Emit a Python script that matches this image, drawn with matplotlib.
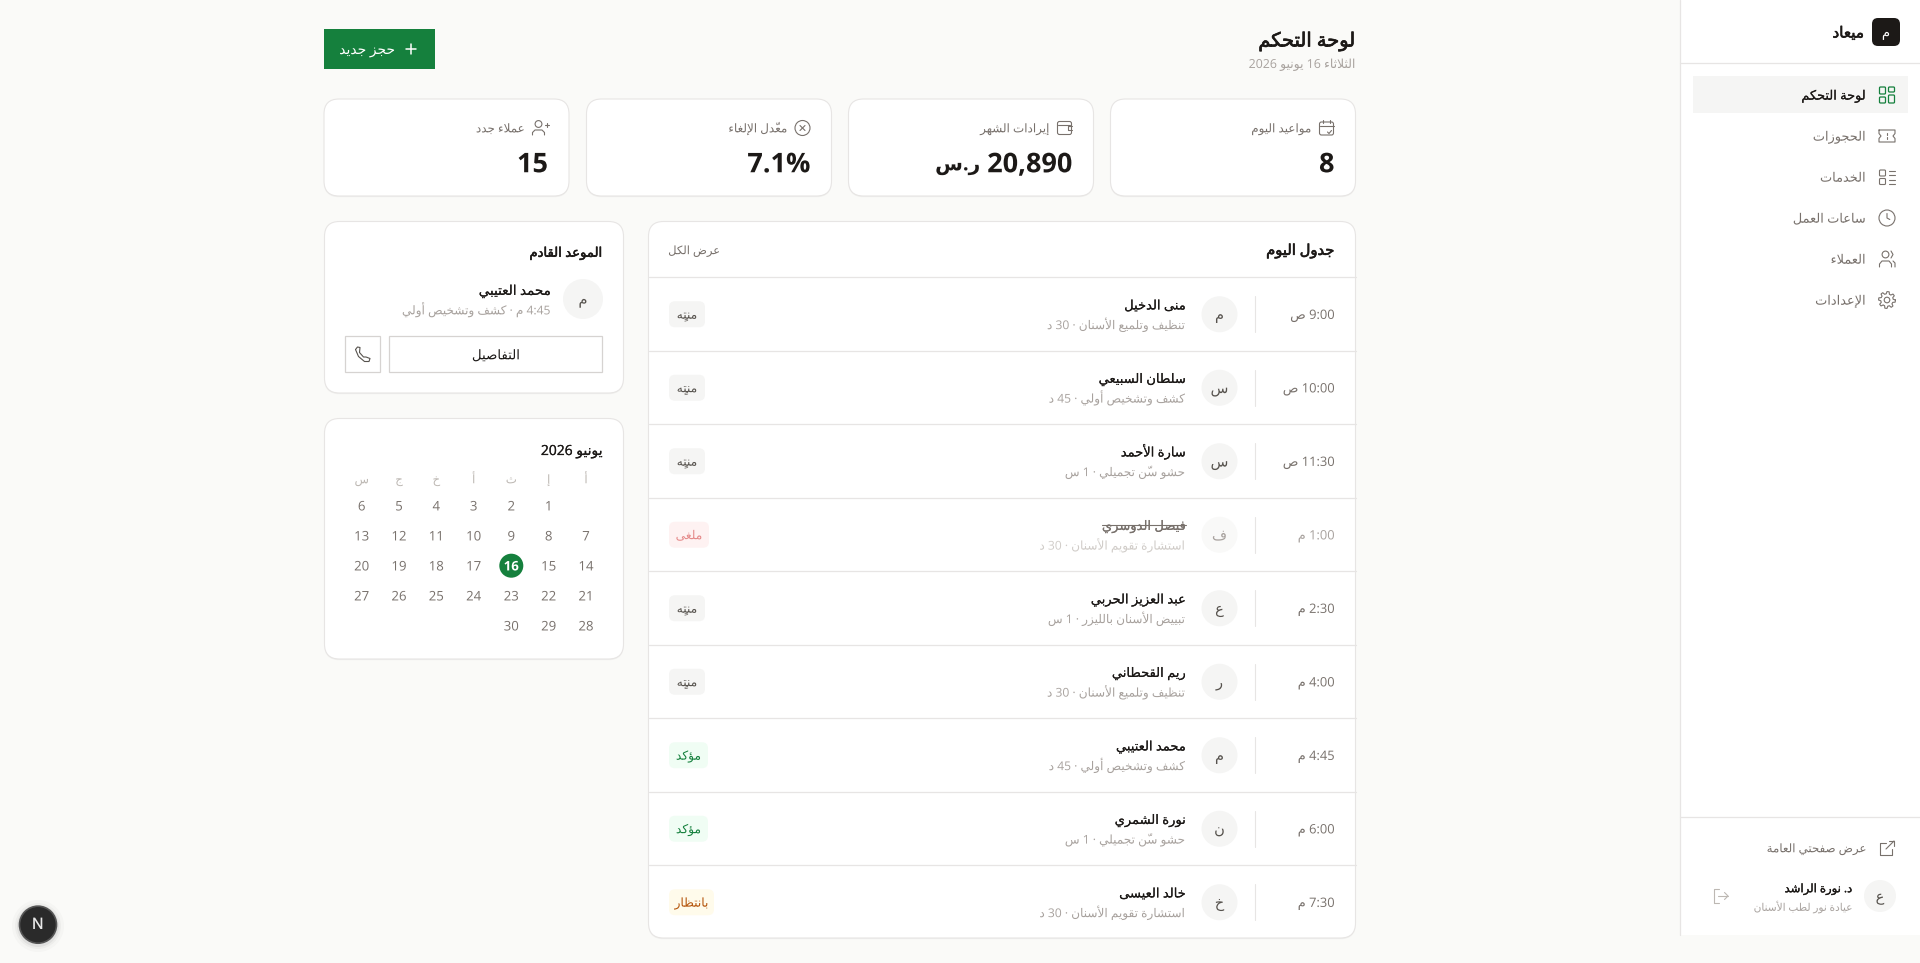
import re
import unicodedata
import numpy as np
import matplotlib
matplotlib.use("Agg")
import matplotlib.pyplot as plt
import matplotlib.patheffects as pe
from matplotlib.patches import FancyBboxPatch, Circle, Rectangle

# dashboard data
page_title = "لوحة التحكم"
page_date = "الثلاثاء 16 يونيو 2026"
new_booking = "حجز جديد"

kpi_labels = ["مواعيد اليوم", "إيرادات الشهر", "معدّل الإلغاء", "عملاء جدد"]
kpi_values = ["8", "20,890", "7.1%", "15"]
kpi_units = ["", "ر.س", "", ""]

times = ["9:00 ص", "10:00 ص", "11:30 ص", "1:00 م", "2:30 م", "4:00 م", "4:45 م", "6:00 م", "7:30 م"]
names = ["منى الدخيل", "سلطان السبيعي", "سارة الأحمد", "فيصل الدوسري", "عبد العزيز الحربي",
         "ريم القحطاني", "محمد العتيبي", "نورة الشمري", "خالد العيسى"]
services = ["تنظيف وتلميع الأسنان · 30 د", "كشف وتشخيص أولي · 45 د", "حشو سنّ تجميلي · 1 س",
            "استشارة تقويم الأسنان · 30 د", "تبييض الأسنان بالليزر · 1 س", "تنظيف وتلميع الأسنان · 30 د",
            "كشف وتشخيص أولي · 45 د", "حشو سنّ تجميلي · 1 س", "استشارة تقويم الأسنان · 30 د"]
initials = ["م", "س", "س", "ف", "ع", "ر", "م", "ن", "خ"]
statuses = ["منتهٍ", "منتهٍ", "منتهٍ", "ملغى", "منتهٍ", "منتهٍ", "مؤكد", "مؤكد", "بانتظار"]

nav_items = ["لوحة التحكم", "الحجوزات", "الخدمات", "ساعات العمل", "العملاء", "الإعدادات"]
week_days = ["أ", "إ", "ث", "أ", "خ", "ج", "س"]
cal_rows = [["", 1, 2, 3, 4, 5, 6],
            [7, 8, 9, 10, 11, 12, 13],
            [14, 15, 16, 17, 18, 19, 20],
            [21, 22, 23, 24, 25, 26, 27],
            [28, 29, 30, "", "", "", ""]]
today = 16

GREEN = "#15803D"
DARK = "#1C1917"
MID = "#57534E"
GRAY = "#78716C"
LIGHT = "#A8A29E"
LINE = "#E7E5E4"
SOFT = "#F5F5F4"

status_style = {"منتهٍ": (SOFT, MID, 36), "ملغى": ("#FEF2F2", "#E58A8A", 40),
                "مؤكد": ("#F0FDF4", GREEN, 39), "بانتظار": ("#FFFBEB", "#B45309", 45)}

plt.rcParams["text.hinting"] = "no_hinting"
FONT = ["Open Sans", "DejaVu Sans"]

# matplotlib has no arabic shaping, so build the forms table from unicode itself
FORMS = {}
LAM_ALEF = {}
for cp in range(0xFE70, 0xFEFD):
    d = unicodedata.decomposition(chr(cp)).split()
    if len(d) == 2 and d[0] in ("<isolated>", "<final>", "<initial>", "<medial>"):
        if 0x0621 <= int(d[1], 16) <= 0x064A:
            FORMS.setdefault(chr(int(d[1], 16)), {})[d[0]] = chr(cp)
    if len(d) == 3:
        LAM_ALEF.setdefault(chr(int(d[2], 16)), {})[d[0]] = chr(cp)


def is_mark(c):
    return 0x064B <= ord(c) <= 0x0652


def joins_next(c):
    return c in FORMS and "<initial>" in FORMS[c]


def shape_run(seg):
    letters = []
    for c in seg:
        if is_mark(c) and letters:
            letters[-1][1] += c
        else:
            letters.append([c, ""])
    out = []
    i = 0
    prev = None
    while i < len(letters):
        c, marks = letters[i]
        nxt = letters[i + 1][0] if i + 1 < len(letters) else None
        before = prev is not None and joins_next(prev)
        if c == "ل" and nxt in LAM_ALEF:
            out.append(LAM_ALEF[nxt]["<final>" if before else "<isolated>"] + marks)
            prev = nxt
            i += 2
            continue
        if c not in FORMS:
            out.append(c + marks)
            prev = None
            i += 1
            continue
        after = joins_next(c) and nxt in FORMS
        key = "<medial>" if before and after else "<final>" if before else "<initial>" if after else "<isolated>"
        out.append(FORMS[c].get(key, c) + marks)
        prev = c
        i += 1
    return "".join(reversed(out))


def shape(text):
    runs = re.split(r"(\d[\d:.,]*%?)", text)
    parts = [r if i % 2 else shape_run(r) for i, r in enumerate(runs)]
    return "".join(reversed(parts))


fig = plt.figure(figsize=(19.2, 9.63), dpi=100, facecolor="#FAFAF8")
ax = fig.add_axes([0, 0, 1, 1])
ax.set_xlim(0, 1920)
ax.set_ylim(963, 0)
ax.axis("off")


def txt(s, x, y, size, color=DARK, ha="right", bold=False, strong=0):
    # y is the visual middle of the line, text sits on a baseline a bit below
    t = ax.text(x, y + size * 0.5, shape(s), fontsize=size, color=color, ha=ha, va="baseline",
                family=FONT, fontweight="bold" if bold else "normal", zorder=6)
    # drawing as paths keeps baselines steady, the stroke fakes a medium weight
    if strong:
        t.set_path_effects([pe.withStroke(linewidth=strong, foreground=color)])
    else:
        t.set_path_effects([pe.Normal()])
    return t


def box(x0, y0, x1, y1, r=0, fc="white", ec="none", lw=1.0, z=1):
    if r:
        p = FancyBboxPatch((x0, y0), x1 - x0, y1 - y0, boxstyle="round,pad=0,rounding_size=%g" % r,
                           fc=fc, ec=ec, lw=lw, zorder=z)
    else:
        p = Rectangle((x0, y0), x1 - x0, y1 - y0, fc=fc, ec=ec, lw=lw, zorder=z)
    ax.add_patch(p)


def card(x0, y0, x1, y1):
    box(x0, y0 + 1.2, x1, y1 + 1.2, 15, fc="#F0F0EE")
    box(x0, y0, x1, y1, 15, fc="white", ec=LINE, lw=0.8)


def ln(xs, ys, c=GRAY, lw=0.8, z=3):
    ax.plot(xs, ys, color=c, lw=lw, solid_capstyle="round", solid_joinstyle="round", zorder=z)


def ring(x, y, r, c=GRAY, lw=0.8, fc="none", z=3):
    ax.add_patch(Circle((x, y), r, fc=fc, ec=c, lw=lw, zorder=z))


def icon_dashboard(x, y, c):
    box(x - 7.5, y - 8, x - 1.5, y - 1, 1, fc="none", ec=c, lw=0.9, z=3)
    box(x + 1.5, y - 8, x + 7.5, y - 3, 1, fc="none", ec=c, lw=0.9, z=3)
    box(x - 7.5, y + 2, x - 1.5, y + 8, 1, fc="none", ec=c, lw=0.9, z=3)
    box(x + 1.5, y, x + 7.5, y + 8, 1, fc="none", ec=c, lw=0.9, z=3)


def icon_ticket(x, y, c):
    ln([x - 8, x + 8, x + 8, x + 6, x + 8, x + 8, x - 8, x - 8, x - 6, x - 8, x - 8],
       [y - 6, y - 6, y - 2.5, y, y + 2.5, y + 6, y + 6, y + 2.5, y, y - 2.5, y - 6], c)
    ln([x, x], [y - 3, y - 1], c)
    ln([x, x], [y + 1, y + 3], c)


def icon_list(x, y, c):
    box(x - 7.5, y - 7, x - 1.5, y - 1, 1, fc="none", ec=c, lw=0.8, z=3)
    box(x - 7.5, y + 1.5, x - 1.5, y + 7.5, 1, fc="none", ec=c, lw=0.8, z=3)
    for dy in (-5.5, -1.5, 3, 7):
        ln([x + 2, x + 8], [y + dy, y + dy], c)


def icon_clock(x, y, c):
    ring(x, y, 8, c)
    ln([x, x, x + 2.8], [y - 4.5, y, y + 1.5], c)


def icon_users(x, y, c):
    ring(x - 1.5, y - 4.5, 3.4, c)
    ln([x - 7.5, x - 7.5, x - 5, x + 2, x + 4.5, x + 4.5], [y + 8, y + 5, y + 2, y + 2, y + 5, y + 8], c)
    ln([x + 4, x + 6, x + 4], [y - 8, y - 4.5, y - 1], c)
    ln([x + 6, x + 8, x + 8], [y + 2, y + 4, y + 8], c)


def icon_gear(x, y, c):
    ring(x, y, 2.8, c)
    a = np.linspace(0, 2 * np.pi, 49)
    r = np.where((np.arange(49) % 6) < 3, 8.4, 6.2)
    ln(x + r * np.cos(a), y + r * np.sin(a), c)


def icon_calendar(x, y, c):
    box(x - 7, y - 6, x + 7, y + 7, 2, fc="none", ec=c, lw=0.8, z=3)
    ln([x - 7, x + 7], [y - 2, y - 2], c)
    ln([x - 3.5, x - 3.5], [y - 8, y - 5], c)
    ln([x + 3.5, x + 3.5], [y - 8, y - 5], c)
    ln([x + 1, x + 2.5, x + 5], [y + 4, y + 5.5, y + 2.5], c)


def icon_wallet(x, y, c):
    box(x - 7, y - 6.5, x + 7, y + 6.5, 2, fc="none", ec=c, lw=0.8, z=3)
    ln([x - 7, x + 5], [y - 3, y - 3], c)
    ln([x + 7, x + 3.5, x + 3.5, x + 7], [y - 1.5, y - 1.5, y + 2, y + 2], c)


def icon_x(x, y, c):
    ring(x, y, 7.5, c)
    ln([x - 2.5, x + 2.5], [y - 2.5, y + 2.5], c)
    ln([x - 2.5, x + 2.5], [y + 2.5, y - 2.5], c)


def icon_user_plus(x, y, c):
    ring(x - 1.5, y - 4, 3.4, c)
    ln([x - 7.5, x - 7.5, x - 5, x + 2, x + 4.5, x + 4.5], [y + 7, y + 4.5, y + 2, y + 2, y + 4.5, y + 7], c)
    ln([x + 4.5, x + 8.5], [y - 2.5, y - 2.5], c)
    ln([x + 6.5, x + 6.5], [y - 4.5, y - 0.5], c)


def icon_phone(x, y, c):
    ln([x - 7, x - 5, x - 2.5, x - 3, x + 1, x + 3.5, x + 7.5, x + 6.5, x + 2, x - 4, x - 7],
       [y - 5, y - 7.5, y - 7, y - 2, y + 2.5, y + 2.5, y + 4, y + 7, y + 7, y + 2, y - 5], c)


def icon_external(x, y, c):
    ln([x - 1, x - 7, x - 7, x + 5, x + 5], [y - 5, y - 5, y + 7, y + 7, y + 1], c)
    ln([x - 1, x + 7], [y + 1, y - 7], c)
    ln([x + 1.5, x + 7, x + 7], [y - 7, y - 7, y - 1.5], c)


def icon_logout(x, y, c):
    ln([x - 2.5, x - 7, x - 7, x - 2.5], [y - 7, y - 7, y + 7, y + 7], c)
    ln([x - 3, x + 7], [y, y], c)
    ln([x + 3.5, x + 7, x + 3.5], [y - 3.5, y, y + 3.5], c)


# sidebar
box(1680, 0, 1920, 935, fc="white", z=0)
ln([1680, 1680], [0, 935], LINE, 0.9, z=1)
ln([1680, 1920], [63.3, 63.3], LINE, 0.9, z=1)
ln([1680, 1920], [817.3, 817.3], LINE, 0.9, z=1)
box(1872, 18, 1900, 46, 6, fc=DARK)
txt("م", 1886, 32, 9.5, "white", ha="center")
txt("ميعاد", 1864, 32, 11, DARK, strong=0.4)
box(1693, 76, 1908, 112.7, fc=SOFT)
nav_icons = [icon_dashboard, icon_ticket, icon_list, icon_clock, icon_users, icon_gear]
for i, item in enumerate(nav_items):
    y = 95 + 41 * i
    txt(item, 1865.5, y, 9.3, DARK if i == 0 else GRAY, strong=0.1 if i == 0 else 0)
    nav_icons[i](1887, y, GREEN if i == 0 else GRAY)
icon_external(1887, 848, GRAY)
txt("عرض صفحتي العامة", 1866, 848, 8.5, GRAY)
ring(1880, 896, 16, "none", fc=SOFT)
txt("ع", 1880, 896, 10.5, MID, ha="center")
txt("د. نورة الراشد", 1852, 888, 8.4, DARK, strong=0.2)
txt("عيادة نور لطب الأسنان", 1852, 907, 7.6, LIGHT)
icon_logout(1721, 896, "#BDB8B3")

# header
txt(page_title, 1355.5, 39.5, 14, DARK, strong=0.5)
txt(page_date, 1355.5, 63.5, 8.9, LIGHT)
box(324, 29, 435, 69, fc=GREEN)
ln([406, 416], [49, 49], "white", 1.1)
ln([411, 411], [44, 54], "white", 1.1)
txt(new_booking, 395, 49, 10, "white")

# kpi cards
card_rights = [1355.5, 1093.5, 831.5, 569]
kpi_icons = [icon_calendar, icon_wallet, icon_x, icon_user_plus]
for i, r in enumerate(card_rights):
    card(r - 245, 99, r, 196)
    kpi_icons[i](r - 29, 128, GRAY)
    txt(kpi_labels[i], r - 44.5, 128, 8.6, GRAY)
    val = txt(kpi_values[i], r - 21, 162.5, 19.5, DARK, bold=True)
    if kpi_units[i]:
        fig.canvas.draw()
        txt(kpi_units[i], val.get_window_extent().x0 - 7, 163, 14.5, DARK, bold=True)

# schedule panel
card(648.5, 221.5, 1355.5, 938)
txt("جدول اليوم", 1334.5, 249.5, 10.6, DARK, strong=0.45)
txt("عرض الكل", 720, 250, 8.3, GRAY)
ln([648.5, 1355.5], [277.5, 277.5], LINE, 0.9)
row_h = 73.5
for i in range(len(names)):
    cy = 277.5 + row_h * (i + 0.5)
    if i:
        ln([648.5, 1355.5], [cy - row_h / 2, cy - row_h / 2], LINE, 0.9)
    faded = statuses[i] == "ملغى"
    txt(times[i], 1334.5, cy, 9.3, LIGHT if faded else GRAY)
    ln([1254.5, 1254.5], [cy - 18, cy + 18], LINE, 0.8)
    ring(1219.5, cy, 18, "none", fc="#F9F9F8" if faded else SOFT)
    txt(initials[i], 1219.5, cy, 10.5, LIGHT if faded else MID, ha="center")
    name_t = txt(names[i], 1185.5, cy - 9.5, 9.4, GRAY if faded else DARK, strong=0.08)
    txt(services[i], 1185.5, cy + 10.5, 8.7, "#D0CCC8" if faded else LIGHT)
    bg, fg, w = status_style[statuses[i]]
    box(669, cy - 13, 669 + w, cy + 13, 6, fc=bg, z=2)
    txt(statuses[i], 669 + w / 2, cy, 8.8, fg, ha="center")
    if faded:
        fig.canvas.draw()
        bb = name_t.get_window_extent()
        ln([bb.x0, bb.x1], [cy - 10, cy - 10], GRAY, 0.8, z=7)

# next appointment
card(324.5, 221.5, 623.5, 393)
txt("الموعد القادم", 602.5, 252, 9.5, DARK, strong=0.4)
ring(583, 299, 20, "none", fc=SOFT)
txt("م", 583, 299, 10.5, MID, ha="center")
txt(names[6], 551, 290, 9.7, DARK, strong=0.08)
txt("4:45 م · كشف وتشخيص أولي", 551, 310, 8.7, LIGHT)
box(389, 336.5, 602, 372.5, fc="white", ec="#D6D3D1", lw=0.9)
txt("التفاصيل", 496, 354.5, 9.6, DARK, ha="center")
box(345, 336.5, 380, 372.5, fc="white", ec="#D6D3D1", lw=0.9)
icon_phone(362.5, 354.5, MID)

# calendar
card(324.5, 418.5, 623.5, 659)
txt("يونيو 2026", 602.5, 450, 10, DARK, strong=0.15)
col_x = [586, 548.7, 511.3, 473.7, 436.3, 399, 361.7]
for x, d in zip(col_x, week_days):
    txt(d, x, 479, 8.5, "#BDB8B3", ha="center")
for j, row in enumerate(cal_rows):
    y = 505.7 + 30 * j
    for x, d in zip(col_x, row):
        if d == "":
            continue
        if d == today:
            ring(x, y, 12, "none", fc=GREEN)
            txt(str(d), x, y, 9.5, "white", ha="center", bold=True)
        else:
            txt(str(d), x, y, 9.5, GRAY, ha="center")

# dev tools badge
for r, a in ((26, 0.02), (23, 0.03), (21, 0.05)):
    ax.add_patch(Circle((38, 926), r, fc="black", ec="none", alpha=a, zorder=1))
ax.add_patch(Circle((38, 924.7), 18.5, fc="#2A2A2A", ec="#555555", lw=1.2, zorder=2))
ax.text(38, 925, "N", fontsize=11, color="#E8E8E8", ha="center", va="center", family="Inter", zorder=3)

fig.savefig("out.png", dpi=100, facecolor=fig.get_facecolor())
